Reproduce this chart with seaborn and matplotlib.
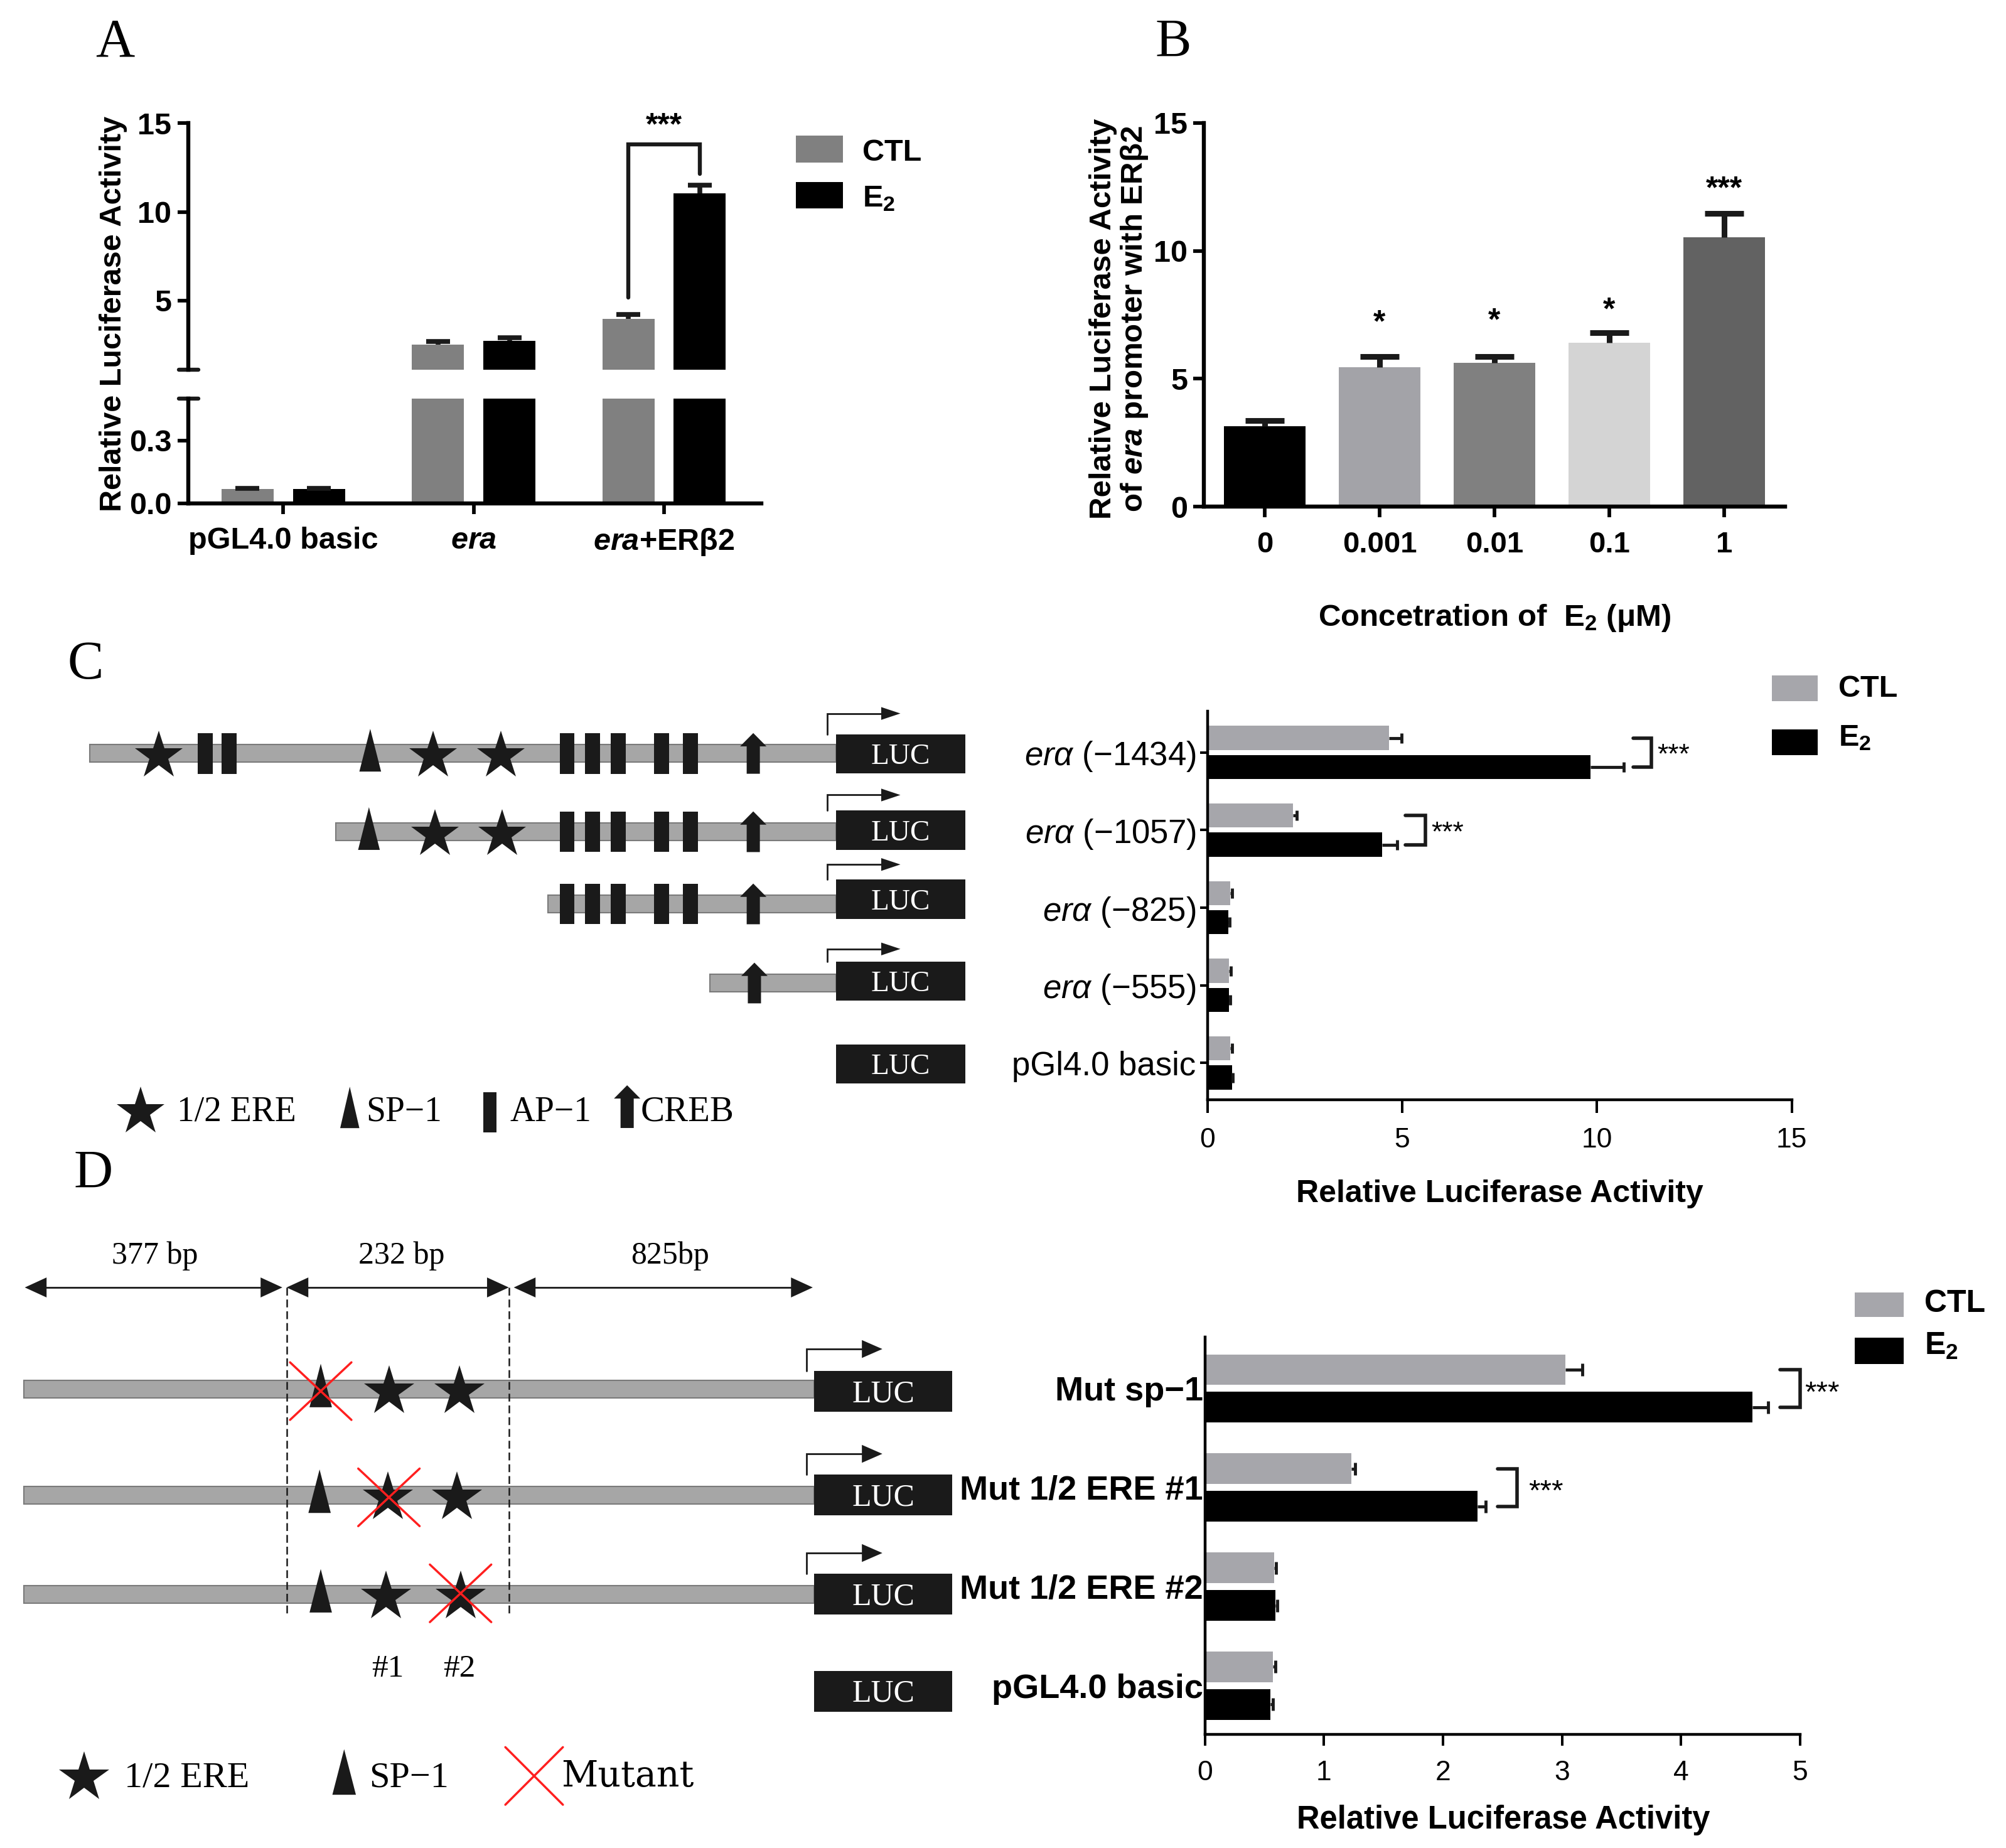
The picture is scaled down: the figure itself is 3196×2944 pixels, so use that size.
import numpy as np
import pandas as pd
import matplotlib
matplotlib.use("Agg")
import matplotlib.pyplot as plt
import seaborn as sns
from matplotlib.patches import Rectangle, Polygon

# ======================= DATA =======================
# Panel A
a_groups = ["pGL4.0 basic", "era", "era+ERβ2"]
a_labels = ["pGL4.0 basic", r"$\mathit{era}$", r"$\mathit{era}$+ERβ2"]
a_ctl = [0.067, 2.51, 3.98]
a_ctl_err = [0.004, 0.19, 0.23]
a_e2 = [0.067, 2.75, 11.06]
a_e2_err = [0.005, 0.16, 0.44]

# Panel B
b_conc = ["0", "0.001", "0.01", "0.1", "1"]
b_vals = [3.14, 5.45, 5.62, 6.41, 10.54]
b_err = [0.22, 0.43, 0.24, 0.38, 0.93]
b_sig = ["", "*", "*", "*", "***"]
b_colors = ["#000000", "#a3a3a8", "#808080", "#d4d4d4", "#626262"]

# Panel C
c_constructs = ["erα (−1434)", "erα (−1057)", "erα (−825)", "erα (−555)", "pGl4.0 basic"]
c_labels = [r"$\mathsf{erα}$ (−1434)", r"$\mathsf{erα}$ (−1057)", r"$\mathsf{erα}$ (−825)",
            r"$\mathsf{erα}$ (−555)", "pGl4.0 basic"]
c_ctl = [4.66, 2.20, 0.59, 0.56, 0.59]
c_ctl_err = [0.32, 0.09, 0.05, 0.05, 0.04]
c_e2 = [9.83, 4.49, 0.54, 0.56, 0.63]
c_e2_err = [0.85, 0.38, 0.03, 0.03, 0.03]

# Panel D
d_constructs = ["Mut sp−1", "Mut 1/2 ERE #1", "Mut 1/2 ERE #2", "pGL4.0 basic"]
d_ctl = [3.03, 1.23, 0.58, 0.57]
d_ctl_err = [0.14, 0.03, 0.02, 0.02]
d_e2 = [4.60, 2.29, 0.59, 0.55]
d_e2_err = [0.13, 0.07, 0.02, 0.02]

# ======================= STYLE =======================
sns.set_theme(style="ticks")
plt.rcParams.update({
    "font.family": ["Liberation Sans", "DejaVu Sans"],
    "font.weight": "bold",
    "mathtext.fontset": "custom",
    "mathtext.rm": "Liberation Sans:weight=bold",
    "mathtext.it": "Liberation Sans:style=italic:weight=bold",
    "mathtext.bf": "Liberation Sans:weight=bold",
    "mathtext.sf": "Liberation Sans:style=italic:weight=normal",
    "mathtext.default": "rm",
    "text.color": "black",
    "axes.labelcolor": "black",
    "xtick.color": "black",
    "ytick.color": "black",
    "axes.edgecolor": "black",
    "figure.facecolor": "white",
})
SERIF = ["Liberation Serif", "DejaVu Serif"]

fig = plt.figure(figsize=(31.96, 29.44), dpi=100)
W, H = 1568.0, 1444.0


def rect(x0, y0, x1, y1):
    return [x0 / W, 1 - y1 / H, (x1 - x0) / W, (y1 - y0) / H]


ov = fig.add_axes([0, 0, 1, 1])
ov.set_xlim(0, W)
ov.set_ylim(H, 0)
ov.axis("off")


def style_ax(ax, xt, yt, xpad, ypad, lw, xlen=12, ylen=12):
    sns.despine(ax=ax)
    for s in ("left", "bottom"):
        ax.spines[s].set_linewidth(lw)
        ax.spines[s].set_color("black")
    ax.tick_params(axis="x", width=lw * 0.9, length=xlen, labelsize=xt, pad=xpad, direction="out")
    ax.tick_params(axis="y", width=lw * 0.9, length=ylen, labelsize=yt, pad=ypad, direction="out")
    ax.set_facecolor("none")
    ax.set_xlabel("")
    ax.set_ylabel("")


def bar_info(ax, orient="v"):
    info = {}
    for p in ax.patches:
        if orient == "v":
            c = p.get_x() + p.get_width() / 2
            v = p.get_height()
        else:
            c = p.get_y() + p.get_height() / 2
            v = p.get_width()
        i = int(round(c))
        h = 1 if c > i + 1e-6 else 0
        info[(i, h)] = (c, v)
    return info


def one_err(ax, c, v, e, orient, lw, cap):
    if orient == "v":
        cont = ax.errorbar([c], [v], yerr=[[0], [e]], fmt="none", ecolor="k",
                           elinewidth=lw, capsize=cap, capthick=lw, zorder=5)
    else:
        cont = ax.errorbar([v], [c], xerr=[[0], [e]], fmt="none", ecolor="k",
                           elinewidth=lw, capsize=cap, capthick=lw, zorder=5)
    caps = cont.lines[1]
    if len(caps) == 2:
        caps[0].set_visible(False)


def draw_err(ax, info, errs, orient, lw, cap):
    for (i, h), (c, v) in info.items():
        one_err(ax, c, v, errs[h][i], orient, lw, cap)


# ======================= PANEL A =======================
LWA = 4.6
dfA = pd.DataFrame({"group": a_groups * 2, "cond": ["CTL"] * 3 + ["E2"] * 3,
                    "value": a_ctl + a_e2})
palA = {"CTL": "#808080", "E2": "#000000"}
axAu = fig.add_axes(rect(147, 96.3, 595, 289))
axAl = fig.add_axes(rect(147, 311.7, 595, 393.2))
for ax in (axAu, axAl):
    sns.barplot(data=dfA, x="group", y="value", hue="cond", order=a_groups,
                hue_order=["CTL", "E2"], palette=palA, width=0.75, gap=0.27,
                errorbar=None, saturation=1, legend=False, linewidth=0, ax=ax)
    style_ax(ax, 35, 35, 15, 7, LWA)
    ax.set_xlim(-0.5, 2.51)
    draw_err(ax, bar_info(ax), [a_ctl_err, a_e2_err], "v", 5.5, 14)
axAu.set_ylim(1.1, 15)
axAu.set_yticks([5, 10, 15])
axAu.spines["bottom"].set_visible(False)
axAu.tick_params(axis="x", bottom=False, labelbottom=False)
axAl.set_ylim(0, 0.5)
axAl.set_yticks([0.0, 0.3])
axAl.set_yticklabels(["0.0", "0.3"])
axAl.set_xticks(range(3))
axAl.set_xticklabels(a_labels)
# break marks
axAu.plot([-0.016, 0.018], [0, 0], transform=axAu.transAxes, color="k", lw=LWA, clip_on=False)
axAl.plot([-0.016, 0.018], [1, 1], transform=axAl.transAxes, color="k", lw=LWA, clip_on=False)
# significance bracket
infoAu = bar_info(axAu)
xa0 = infoAu[(2, 0)][0]
xa1 = infoAu[(2, 1)][0]
axAu.plot([xa0, xa0, xa1, xa1], [5.19, 13.8, 13.8, 12.16], color="k", lw=LWA,
          solid_joinstyle="miter", clip_on=False)
axAu.text(2, 14.36, "***", ha="center", va="baseline", fontsize=36, clip_on=False)
ov.text(88.6, 245, "Relative Luciferase Activity", rotation=90, ha="center",
        va="center", fontsize=35)
# legend A
ov.add_patch(Rectangle((622, 106), 37, 21, color="#808080", lw=0))
ov.add_patch(Rectangle((622, 142), 37, 21, color="#000000", lw=0))
ov.text(674, 125.5, "CTL", ha="left", va="baseline", fontsize=35)
ov.text(674, 161.5, "E$_2$", ha="left", va="baseline", fontsize=35)

# ======================= PANEL B =======================
dfB = pd.DataFrame({"conc": b_conc, "value": b_vals})
axB = fig.add_axes(rect(941, 96.1, 1395.3, 395.9))
sns.barplot(data=dfB, x="conc", y="value", hue="conc", order=b_conc, hue_order=b_conc,
            palette=b_colors, width=0.71, errorbar=None, saturation=1, legend=False,
            linewidth=0, ax=axB)
style_ax(axB, 34, 35, 16, 6.5, LWA)
axB.set_xlim(-0.53, 4.53)
axB.set_ylim(0, 15)
axB.set_yticks([0, 5, 10, 15])
infoB = bar_info(axB)
for (i, h), (c, v) in infoB.items():
    one_err(axB, c, v, b_err[i], "v", 6.5, 22)
b_sig_y = [0, 6.85, 6.91, 7.34, 12.06]
for i, s in enumerate(b_sig):
    if s:
        axB.text(i, b_sig_y[i], s, ha="center", va="baseline", fontsize=36, clip_on=False)
ov.text(875, 249, "Relative Luciferase Activity\nof $\\mathit{era}$ promoter with ERβ2",
        rotation=90, ha="center", va="center", fontsize=35.5, linespacing=1.08,
        multialignment="center")
ov.text(1168, 483, "Concetration of  E$_2$ (μM)", ha="center", va="center", fontsize=35.5)

# ======================= PANEL C bars =======================
LWC = 3.2
palCD = {"CTL": "#a6a6ab", "E2": "#000000"}
dfC = pd.DataFrame({"construct": c_constructs * 2, "cond": ["CTL"] * 5 + ["E2"] * 5,
                    "value": c_ctl + c_e2})
axC = fig.add_axes(rect(943.7, 555.8, 1400.6, 859.1))
sns.barplot(data=dfC, x="value", y="construct", hue="cond", order=c_constructs,
            hue_order=["CTL", "E2"], palette=palCD, orient="h", width=0.75, gap=0.17,
            errorbar=None, saturation=1, legend=False, linewidth=0, ax=axC)
style_ax(axC, 32, 38, 17, 4, LWC, xlen=15, ylen=9)
axC.set_xlim(0, 15)
axC.set_ylim(4.47, -0.53)
axC.set_xticks([0, 5, 10, 15])
axC.set_yticks(range(5))
axC.set_yticklabels(c_labels)
for t in axC.get_xticklabels() + axC.get_yticklabels():
    t.set_fontweight("normal")
infoC = bar_info(axC, "h")
draw_err(axC, infoC, [c_ctl_err, c_e2_err], "h", 3.5, 6)
c_brackets = [(0, 10.93, 11.4, 11.55), (1, 5.08, 5.59, 5.75)]
for k, x0, x1, tx in c_brackets:
    yc = infoC[(k, 0)][0]
    ye = infoC[(k, 1)][0]
    axC.plot([x0, x1, x1, x0], [yc, yc, ye, ye], color="k", lw=4,
             solid_joinstyle="miter", clip_on=False)
    axC.text(tx, k + 0.134, "***", ha="left", va="baseline", fontsize=32,
             fontweight="normal", clip_on=False)
ov.text(1172, 933, "Relative Luciferase Activity", ha="center", va="center", fontsize=36)
ov.add_patch(Rectangle((1385, 528), 36, 20, color="#a6a6ab", lw=0))
ov.add_patch(Rectangle((1385, 570), 36, 20, color="#000000", lw=0))
ov.text(1437, 544.6, "CTL", ha="left", va="baseline", fontsize=35)
ov.text(1437, 582.6, "E$_2$", ha="left", va="baseline", fontsize=35)

# ======================= PANEL D bars =======================
dfD = pd.DataFrame({"construct": d_constructs * 2, "cond": ["CTL"] * 4 + ["E2"] * 4,
                    "value": d_ctl + d_e2})
axD = fig.add_axes(rect(941.8, 1044.6, 1407.1, 1355.1))
sns.barplot(data=dfD, x="value", y="construct", hue="cond", order=d_constructs,
            hue_order=["CTL", "E2"], palette=palCD, orient="h", width=0.76, gap=0.19,
            errorbar=None, saturation=1, legend=False, linewidth=0, ax=axD)
style_ax(axD, 32, 39, 17, 2, LWC, xlen=13, ylen=0)
axD.set_xlim(0, 5)
axD.set_ylim(3.49, -0.52)
axD.set_xticks([0, 1, 2, 3, 4, 5])
axD.set_yticks(range(4))
axD.set_yticklabels(d_constructs)
for t in axD.get_xticklabels():
    t.set_fontweight("normal")
infoD = bar_info(axD, "h")
draw_err(axD, infoD, [d_ctl_err, d_e2_err], "h", 3.5, 7)
d_brackets = [(0, 4.83, 5.0, 5.04), (1, 2.46, 2.62, 2.72)]
for k, x0, x1, tx in d_brackets:
    yc = infoD[(k, 0)][0]
    ye = infoD[(k, 1)][0]
    axD.plot([x0, x1, x1, x0], [yc, yc, ye, ye], color="k", lw=4,
             solid_joinstyle="miter", clip_on=False)
    axD.text(tx, k + 0.13, "***", ha="left", va="baseline", fontsize=34,
             fontweight="normal", clip_on=False)
ov.text(1175, 1422, "Relative Luciferase Activity", ha="center", va="center", fontsize=36.5)
ov.add_patch(Rectangle((1450, 1010), 38, 19, color="#a6a6ab", lw=0))
ov.add_patch(Rectangle((1450, 1045), 38, 21, color="#000000", lw=0))
ov.text(1504, 1025, "CTL", ha="left", va="baseline", fontsize=36)
ov.text(1504, 1058.6, "E$_2$", ha="left", va="baseline", fontsize=36)

# ======================= SCHEMATIC HELPERS =======================
GRAY_FC, GRAY_EC = "#a6a6a6", "#7a7a7a"


def star(x, y, s=58):
    ov.plot([x], [y + 2], marker="*", markersize=s, color="k", markeredgewidth=0,
            linestyle="none")


def tri(x, ytop, ybase, w):
    ov.add_patch(Polygon([(x - w / 2, ybase), (x + w / 2, ybase), (x, ytop)],
                         closed=True, fc="k", ec="none"))


def ap1(x, y, w=11.7, h=31.7):
    ov.add_patch(Rectangle((x - w / 2, y - h / 2), w, h, fc="k", ec="none"))


def creb(x, ytop, ybot, sw=10.3, hw=20.6, hh=10.4):
    pts = [(x - sw / 2, ybot), (x + sw / 2, ybot), (x + sw / 2, ytop + hh),
           (x + hw / 2, ytop + hh), (x, ytop), (x - hw / 2, ytop + hh), (x - sw / 2, ytop + hh)]
    ov.add_patch(Polygon(pts, closed=True, fc="k", ec="none"))


def gray_bar(x0, x1, y, h=13.9):
    ov.add_patch(Rectangle((x0, y - h / 2), x1 - x0, h, fc=GRAY_FC, ec=GRAY_EC, lw=1.5))


def luc(x0, x1, y, h, fs):
    ov.add_patch(Rectangle((x0, y - h / 2), x1 - x0, h, fc="k", ec="none", zorder=3))
    ov.text((x0 + x1) / 2, y + h * 0.26, "LUC", color="white", ha="center", va="baseline",
            family=SERIF, fontweight="normal", fontsize=fs, zorder=4)


def tss(x, ybot, ytop, tip, hl, hw):
    ov.plot([x, x, tip - hl], [ybot, ytop, ytop], color="k", lw=2, solid_joinstyle="miter")
    ov.add_patch(Polygon([(tip - hl, ytop - hw / 2), (tip - hl, ytop + hw / 2), (tip, ytop)],
                         closed=True, fc="k", ec="none"))


def red_x(xc, yc, hw, hh):
    ov.plot([xc - hw, xc + hw], [yc - hh, yc + hh], color="#ff1f1f", lw=2.5, zorder=5)
    ov.plot([xc - hw, xc + hw], [yc + hh, yc - hh], color="#ff1f1f", lw=2.5, zorder=5)


# ======================= PANEL C schematic =======================
c_gray_y = [588.7, 649.9, 706.3, 768.1]
c_luc_y = [589.0, 648.7, 702.7, 766.5, 831.3]
c_gray_x0 = [70.2, 262.6, 428.3, 555.0]
c_arrow_y = [557.5, 621.2, 675.5, 741.5]
c_luc_x0, c_luc_x1, c_luc_h = 653.6, 754.4, 30.6
c_star_x = [[124.2, 338.6, 391.7], [340.0, 392.6], [], []]
c_sp1_x = [[289.4], [288.4], [], []]
ap_set = [443.3, 463.0, 483.2, 517.0, 539.5]
c_ap1_x = [[160.3, 179.1] + ap_set, ap_set, ap_set, []]
c_creb_x = [[588.8], [588.8], [588.8], [589.7]]

for r in range(4):
    gy = c_gray_y[r]
    gray_bar(c_gray_x0[r], c_luc_x0, gy)
    for x in c_ap1_x[r]:
        ap1(x, gy)
    for x in c_sp1_x[r]:
        tri(x, gy - 19.2, gy + 14.2, 17)
    for x in c_star_x[r]:
        star(x, gy)
    for x in c_creb_x[r]:
        creb(x, gy - 15.9, gy + 15.9)
    tss(646.5, c_luc_y[r] - c_luc_h / 2, c_arrow_y[r], 703.8, 15, 10)
for r in range(5):
    luc(c_luc_x0, c_luc_x1, c_luc_y[r], c_luc_h, 34)

# legend C
star(110.1, 866.5)
ov.text(138.3, 876, "1/2 ERE", family=SERIF, fontweight="normal", fontsize=40, va="baseline")
tri(273.4, 849.1, 881.5, 15)
ov.text(286, 876, "SP−1", family=SERIF, fontweight="normal", fontsize=40, va="baseline")
ov.add_patch(Rectangle((377.6, 853.3), 10.4, 31.3, fc="k", ec="none"))
ov.text(398.7, 876, "AP−1", family=SERIF, fontweight="normal", fontsize=40, va="baseline")
creb(490.2, 848, 881.4)
ov.text(500.6, 876, "CREB", family=SERIF, fontweight="normal", fontsize=41, va="baseline")

# ======================= PANEL D schematic =======================
d_gray_y = [1085.6, 1168.2, 1246.0]
d_luc_y = [1087.0, 1168.1, 1245.5, 1321.4]
d_arrow_y = [1054.1, 1136.0, 1213.5]
d_gray_x0 = 18.4
d_luc_x0, d_luc_x1, d_luc_h = 636.5, 744.5, 31.9
d_sp1_x = [250.7, 249.8, 250.7]
d_star_x = [[304.1, 358.9], [303.1, 357.4], [301.7, 359.9]]
d_mut = [(250.7, 1087.0), (304.0, 1170.0), (360.0, 1245.0)]
d_dash_x = [224.0, 397.7]
d_dim_segments = [(19.4, 220.7), (224.0, 397.7), (401.6, 635.3)]
d_dim_labels = ["377 bp", "232 bp", "825bp"]
d_dim_label_x = [121, 314, 523.8]

for r in range(3):
    gy = d_gray_y[r]
    gray_bar(d_gray_x0, d_luc_x0, gy)
    tri(d_sp1_x[r], gy - 20, gy + 14, 17.5)
    for x in d_star_x[r]:
        star(x, gy, 60)
    tss(630.5, d_luc_y[r] - d_luc_h / 2, d_arrow_y[r], 689.7, 16, 14)
for r in range(4):
    luc(d_luc_x0, d_luc_x1, d_luc_y[r], d_luc_h, 36)
for xc, yc in d_mut:
    red_x(xc, yc, 24, 22.5)
for x in d_dash_x:
    ov.plot([x, x], [1006, 1263], color="k", lw=1.8, ls=(0, (5, 2.5)))
for (x0, x1), lab, lx in zip(d_dim_segments, d_dim_labels, d_dim_label_x):
    ov.plot([x0 + 10, x1 - 10], [1006, 1006], color="k", lw=2)
    ov.add_patch(Polygon([(x0, 1006), (x0 + 17, 998.2), (x0 + 17, 1013.8)], fc="k", ec="none"))
    ov.add_patch(Polygon([(x1, 1006), (x1 - 17, 998.2), (x1 - 17, 1013.8)], fc="k", ec="none"))
    ov.text(lx, 987.4, lab, ha="center", va="baseline", family=SERIF, fontweight="normal",
            fontsize=36)
ov.text(303, 1310, "#1", ha="center", va="baseline", family=SERIF, fontweight="normal", fontsize=37)
ov.text(359, 1310, "#2", ha="center", va="baseline", family=SERIF, fontweight="normal", fontsize=37)

# legend D
star(65.5, 1386.9, 60)
ov.text(97, 1396, "1/2 ERE", family=SERIF, fontweight="normal", fontsize=42, va="baseline")
tri(269, 1366.8, 1402.4, 18.4)
ov.text(288.6, 1396, "SP−1", family=SERIF, fontweight="normal", fontsize=42, va="baseline")
red_x(417.5, 1387.7, 22.5, 22.5)
ov.text(438.9, 1396, "Mutant", family=["DejaVu Serif"], fontweight="normal", fontsize=41,
        va="baseline")

# ======================= PANEL LABELS =======================
for lab, x, y in [("A", 90, 44), ("B", 917, 44), ("C", 67, 530), ("D", 73, 928)]:
    ov.text(x, y, lab, ha="center", va="baseline", family=SERIF, fontweight="normal",
            fontsize=62)

fig.savefig("out.png", dpi=100)
